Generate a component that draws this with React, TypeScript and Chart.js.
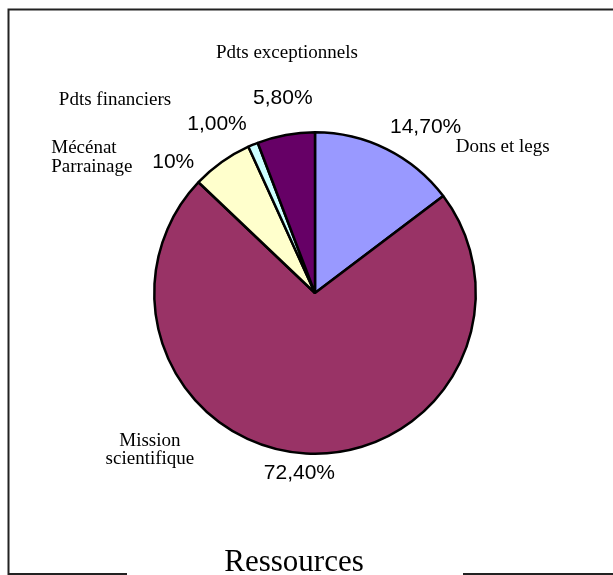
import React, { useEffect, useRef } from "react";
import { Chart, registerables } from "chart.js";

Chart.register(...registerables);

const categories = ["Dons et legs", "Mission scientifique", "Mécénat Parrainage", "Pdts financiers", "Pdts exceptionnels"];
const categoryLines = [["Dons et legs"], ["Mission", "scientifique"], ["Mécénat", "Parrainage"], ["Pdts financiers"], ["Pdts exceptionnels"]];
const values = [14.7, 72.4, 6.1, 1.0, 5.8];
const valueLabels = ["14,70%", "72,40%", "10%", "1,00%", "5,80%"];
const colors = ["#9999FF", "#993366", "#FFFFCC", "#CCFFFF", "#660066"];
const chartTitle = "Ressources";

// label placement relative to the slice's outer edge at its mid-angle
const valueOffsets = [[39, -16], [-6.5, 26], [-48.5, 6], [-36, -14.5], [-3, -30.6]];
const catOffsets = [[116, 3], [-156, -7], [-170.5, -9], [-138, -39.5], [1, -76.6]];
const catAlign: CanvasTextAlign[] = ["center", "center", "left", "center", "center"];
const catLineHeight = [18, 18, 19, 18, 18];

const labelPlugin = {
  id: "labelPlugin",
  afterDraw(chart: any) {
    const ctx = chart.ctx as CanvasRenderingContext2D;
    const meta = chart.getDatasetMeta(0);
    ctx.save();
    ctx.fillStyle = "#000";
    meta.data.forEach((arc: any, i: number) => {
      const { x, y, startAngle, endAngle, outerRadius } = arc.getProps(["x", "y", "startAngle", "endAngle", "outerRadius"], true);
      const mid = (startAngle + endAngle) / 2;
      const ex = x + Math.cos(mid) * outerRadius;
      const ey = y + Math.sin(mid) * outerRadius;
      ctx.textBaseline = "alphabetic";
      ctx.font = "21px 'Liberation Sans', Arial, sans-serif";
      ctx.textAlign = "center";
      ctx.fillText(valueLabels[i], ex + valueOffsets[i][0], ey + valueOffsets[i][1]);
      ctx.font = "19px 'Liberation Serif', 'Times New Roman', serif";
      ctx.textAlign = catAlign[i];
      categoryLines[i].forEach((line, j) => {
        ctx.fillText(line, ex + catOffsets[i][0], ey + catOffsets[i][1] + j * catLineHeight[i]);
      });
    });
    // frame
    ctx.strokeStyle = "#222";
    ctx.lineWidth = 2;
    ctx.beginPath();
    ctx.moveTo(613, 9.5);
    ctx.lineTo(8.5, 9.5);
    ctx.lineTo(8.5, 574);
    ctx.lineTo(127, 574);
    ctx.moveTo(463, 574);
    ctx.lineTo(613, 574);
    ctx.stroke();
    // title
    ctx.font = "31px 'Liberation Serif', 'Times New Roman', serif";
    ctx.textAlign = "center";
    ctx.textBaseline = "alphabetic";
    ctx.fillText(chartTitle, 294, 571);
    ctx.restore();
  },
};

export default function App() {
  const ref = useRef<HTMLCanvasElement | null>(null);
  useEffect(() => {
    if (!ref.current) return;
    const chart = new Chart(ref.current, {
      type: "pie",
      data: {
        labels: categories,
        datasets: [
          {
            data: values,
            backgroundColor: colors,
            borderColor: "#000",
            borderWidth: 2.5,
          },
        ],
      },
      options: {
        responsive: false,
        animation: false,
        layout: { padding: { left: 153, right: 136, top: 131, bottom: 120 } },
        plugins: {
          legend: { display: false },
          tooltip: { enabled: false },
          title: { display: false },
        },
      },
      plugins: [labelPlugin],
    });
    return () => chart.destroy();
  }, []);
  return (
    <div style={{ position: "absolute", left: 0, top: 0, width: 613, height: 575, background: "#fff" }}>
      <canvas ref={ref} width={613} height={575} style={{ width: 613, height: 575, display: "block" }} />
    </div>
  );
}
